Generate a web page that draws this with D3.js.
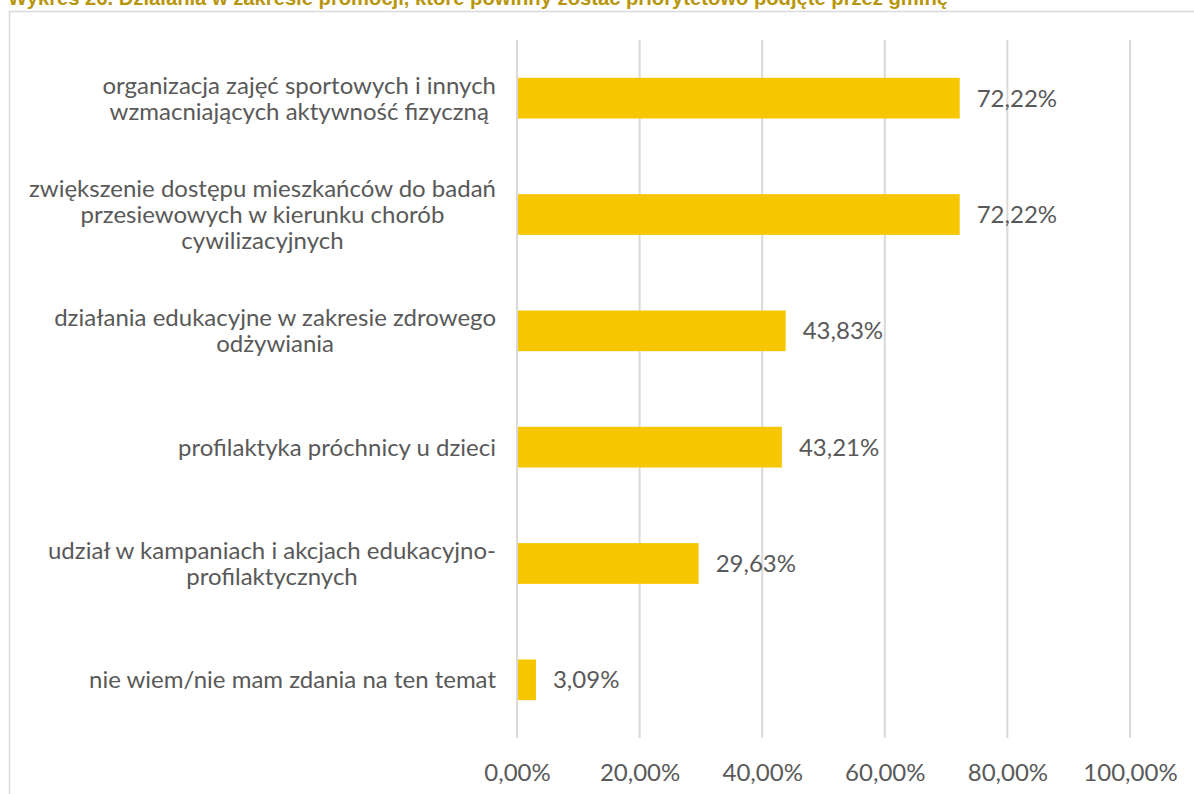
<!DOCTYPE html>
<html><head><meta charset="utf-8">
<script src="https://cdn.jsdelivr.net/npm/d3@7"></script>
<style>
html,body{margin:0;padding:0;background:#fff;}
svg{display:block;}
</style></head>
<body>
<svg id="chart" width="1194" height="794"></svg>
<script>
const categories = [
  ["organizacja zajęć sportowych i innych", "wzmacniających aktywność fizyczną"],
  ["zwiększenie dostępu mieszkańców do badań", "przesiewowych w kierunku chorób", "cywilizacyjnych"],
  ["działania edukacyjne w zakresie zdrowego", "odżywiania"],
  ["profilaktyka próchnicy u dzieci"],
  ["udział w kampaniach i akcjach edukacyjno-", "profilaktycznych"],
  ["nie wiem/nie mam zdania na ten temat"]
];
const values = [72.22, 72.22, 43.83, 43.21, 29.63, 3.09];
const ticks = [0, 20, 40, 60, 80, 100];
const title = "Wykres 26. Działania w zakresie promocji, które powinny zostać priorytetowo podjęte przez gminę";

const fmt = v => v.toFixed(2).replace(".", ",") + "%";
const svg = d3.select("#chart");
const font = "Lato, 'Noto Sans', sans-serif";
const textColor = "#595959";
const fs = 24;

// title (cut off at top)
svg.append("text")
  .attr("x", 8).attr("y", 5)
  .attr("font-family", "'Liberation Sans Narrow', 'Arial Narrow', 'Liberation Sans', sans-serif")
  .attr("font-weight", "bold").attr("font-size", 20)
  .attr("textLength", 940).attr("lengthAdjust", "spacingAndGlyphs")
  .attr("fill", "#B8960C")
  .text(title);

// frame
svg.append("rect")
  .attr("x", 9.5).attr("y", 11.5).attr("width", 1200).attr("height", 800)
  .attr("fill", "none").attr("stroke", "#d9d9d9").attr("stroke-width", 1.5);

const x = d3.scaleLinear().domain([0, 100]).range([517, 1130]);
const y = d3.scaleBand().domain(d3.range(categories.length)).range([40, 738]).paddingInner(0.65).paddingOuter(0.325);

// gridlines
svg.append("g").selectAll("line").data(ticks).join("line")
  .attr("x1", d => x(d)).attr("x2", d => x(d))
  .attr("y1", 40).attr("y2", 738)
  .attr("stroke", "#d9d9d9").attr("stroke-width", 2);

// x axis labels
const xAxis = d3.axisBottom(x).tickValues(ticks).tickSize(0).tickPadding(0).tickFormat(fmt);
const gx = svg.append("g").attr("transform", "translate(0,772)").call(xAxis);
gx.select(".domain").remove();
gx.selectAll("text").attr("font-family", font).attr("font-size", fs).attr("fill", textColor).attr("y", 0).attr("dy", "0.36em");

// bars
svg.append("g").selectAll("rect").data(values).join("rect")
  .attr("x", x(0) + 1).attr("y", (d, i) => y(i))
  .attr("width", d => x(d) - x(0) - 1).attr("height", y.bandwidth())
  .attr("fill", "#F6C600");

// value labels
svg.append("g").selectAll("text").data(values).join("text")
  .attr("x", d => x(d) + 17).attr("y", (d, i) => y(i) + y.bandwidth() / 2)
  .attr("dy", "0.36em")
  .attr("font-family", font).attr("font-size", fs).attr("fill", textColor)
  .text(fmt);

// category labels (one text per category, centered lines, block right-aligned)
const lineH = 26;
const rightEdge = 496;
categories.forEach((lines, i) => {
  const cy = y(i) + y.bandwidth() / 2;
  const t = svg.append("text")
    .attr("text-anchor", "middle")
    .attr("font-family", font).attr("font-size", fs).attr("fill", textColor);
  const spans = lines.map((l, j) => t.append("tspan")
    .attr("y", cy + (j - (lines.length - 1) / 2) * lineH)
    .attr("dy", "0.36em")
    .text(l));
  const maxW = d3.max(spans, s => s.node().getComputedTextLength());
  spans.forEach(s => s.attr("x", rightEdge - maxW / 2));
});
</script>
</body></html>
